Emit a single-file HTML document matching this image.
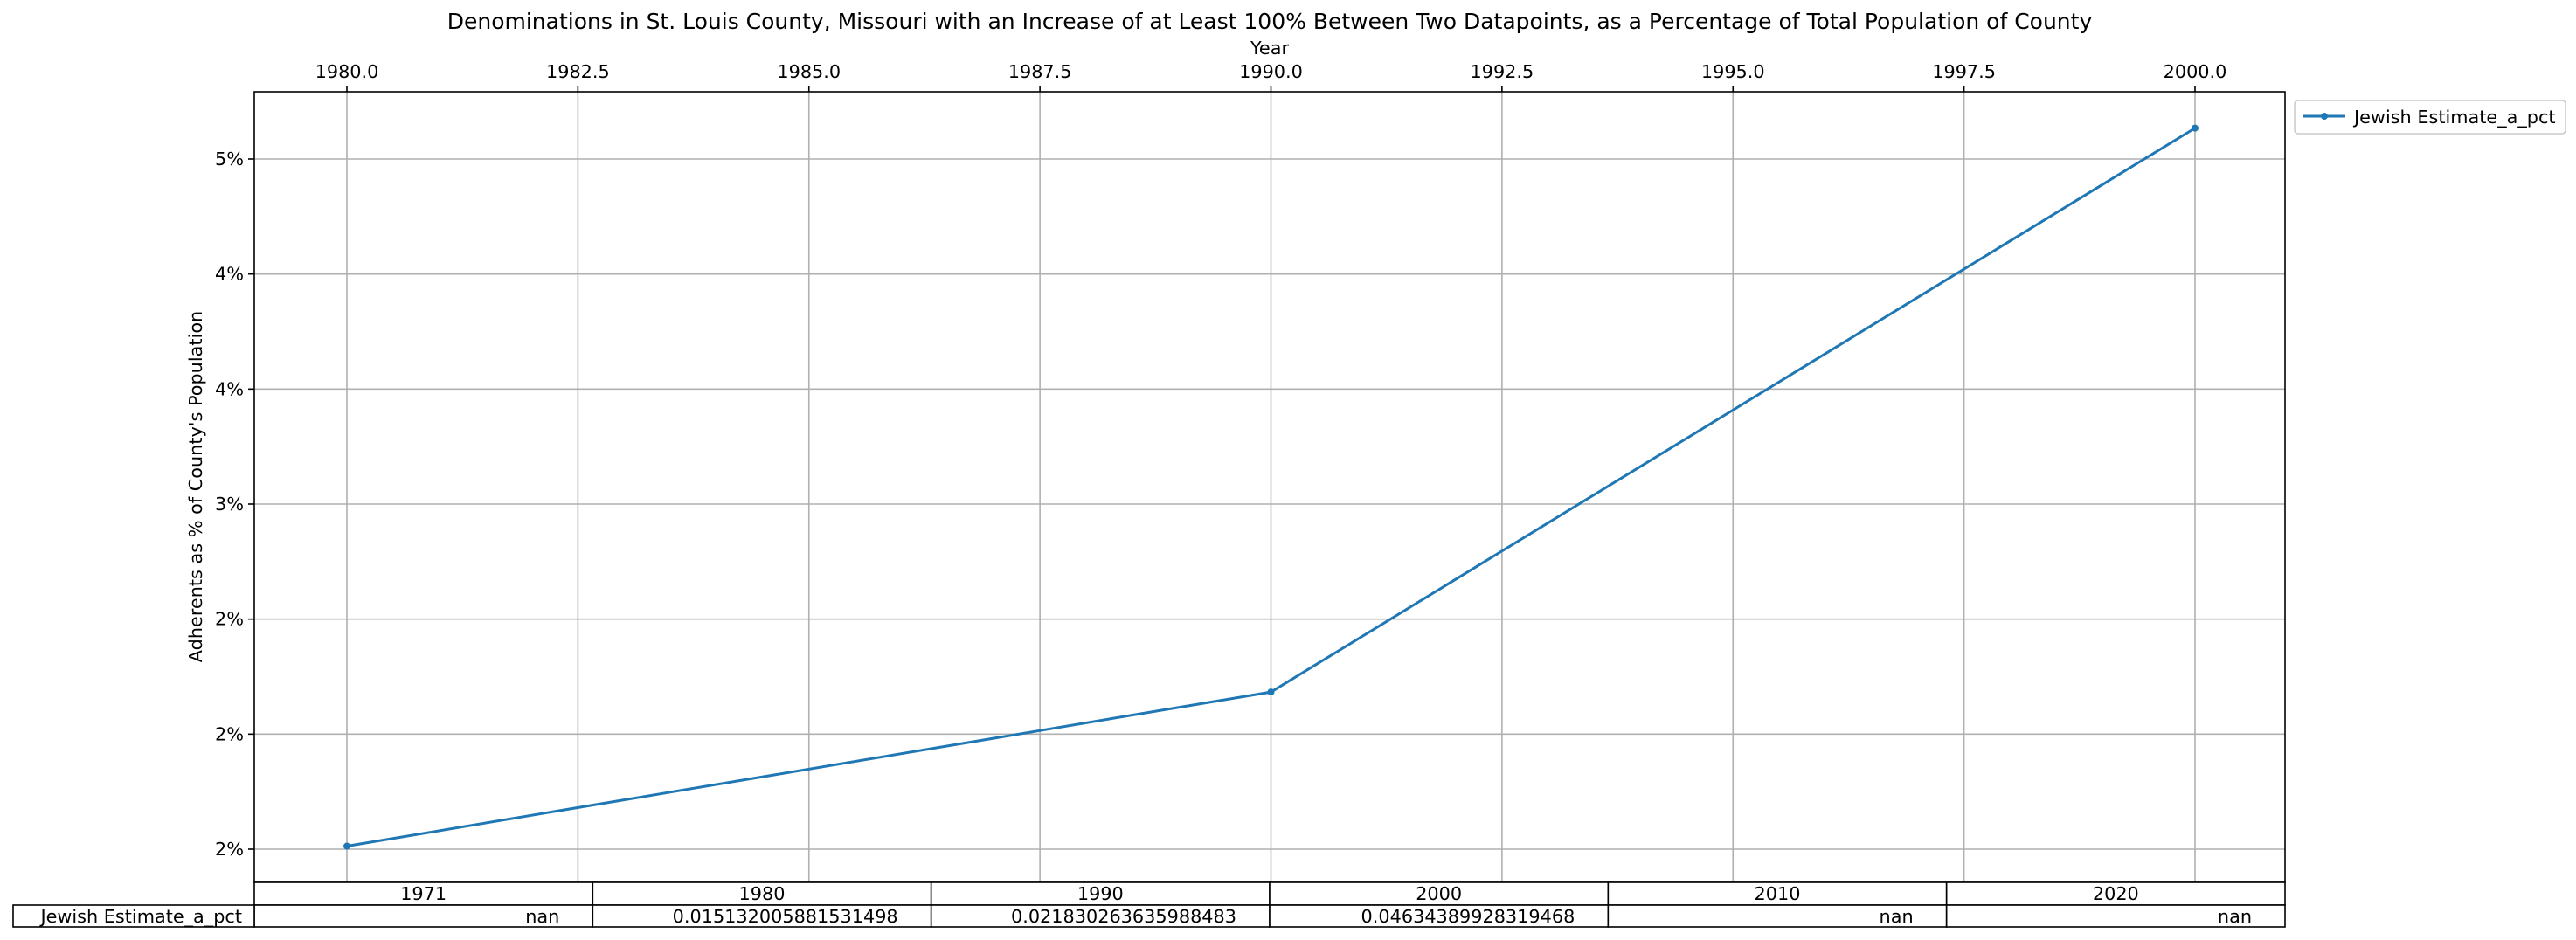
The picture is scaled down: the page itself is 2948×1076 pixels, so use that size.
<!DOCTYPE html>
<html><head><meta charset="utf-8"><style>
html,body{margin:0;padding:0;background:#fff;}
svg{display:block;font-family:"DejaVu Sans","Liberation Sans",sans-serif;}
</style></head><body>
<svg id="chart" width="2948" height="1076" viewBox="0 0 2948 1076">
<text x="1453" y="33" font-size="25" text-anchor="middle" fill="#000">Denominations in St. Louis County, Missouri with an Increase of at Least 100% Between Two Datapoints, as a Percentage of Total Population of County</text>
<text x="1453" y="62" font-size="20.8" text-anchor="middle">Year</text>
<text transform="translate(231,557) rotate(-90)" font-size="20.8" text-anchor="middle">Adherents as % of County's Population</text>
<g id="grid"></g>
<g id="ticks"></g>
<rect x="291" y="105" width="2324" height="905" fill="none" stroke="#000" stroke-width="1.6"/>
<g id="series"></g>
<g id="legend">
<rect x="2626" y="115" width="310" height="38" rx="4" fill="#fff" stroke="#ccc" stroke-width="1.6"/>
<line x1="2636" y1="133" x2="2684" y2="133" stroke="#1f77b4" stroke-width="3"/>
<circle cx="2660" cy="133" r="4" fill="#1f77b4"/>
<text x="2694" y="141" font-size="20.8">Jewish Estimate_a_pct</text>
</g>
<g id="table"></g>
</svg>
<script>
const xTicks=[1980,1982.5,1985,1987.5,1990,1992.5,1995,1997.5,2000];
const yTicks=[0.015,0.02,0.025,0.03,0.035,0.04,0.045];
const yTickLabels=["2%","2%","2%","3%","4%","4%","5%"];
const years=[1980,1990,2000];
const values=[0.015132005881531498,0.021830263635988483,0.04634389928319468];
const tableCols=["1971","1980","1990","2000","2010","2020"];
const tableVals=["nan","0.015132005881531498","0.021830263635988483","0.04634389928319468","nan","nan"];
const seriesName="Jewish Estimate_a_pct";

const NS="http://www.w3.org/2000/svg";
const L=291,R=2615,T=105,B=1010;
const xs=v=>397+(v-1980)*(2512-397)/20;
const ys=v=>972-(v-0.015)*(972-182)/0.03;
function mk(tag,attrs,parent,txt){const e=document.createElementNS(NS,tag);for(const k in attrs)e.setAttribute(k,attrs[k]);if(txt!==undefined)e.textContent=txt;parent.appendChild(e);return e;}
const grid=document.getElementById('grid'),ticks=document.getElementById('ticks');
xTicks.forEach(v=>{const x=xs(v);
 const g=mk('line',{x1:x,x2:x,y1:T,y2:B,stroke:'#b0b0b0','stroke-width':1.6},grid);
 
 
 const t=mk('line',{x1:x,x2:x,y1:T,y2:T-7,stroke:'#000','stroke-width':1.6},ticks);
 
 
 const l=mk('text',{x:x,y:89,'font-size':20.8,'text-anchor':'middle'},ticks,v.toFixed(1));
 
 
});
yTicks.forEach((v,i)=>{const y=ys(v);
 const g=mk('line',{x1:L,x2:R,y1:y,y2:y,stroke:'#b0b0b0','stroke-width':1.6},grid);
 
 
 const t=mk('line',{x1:L,x2:L-7,y1:y,y2:y,stroke:'#000','stroke-width':1.6},ticks);
 
 
 const l=mk('text',{x:L-12,y:y+7,'font-size':20.8,'text-anchor':'end'},ticks,yTickLabels[i]);
 
 
});
const ser=document.getElementById('series');
const pl=mk('polyline',{points:years.map((y,i)=>xs(y)+','+ys(values[i])).join(' '),fill:'none',stroke:'#1f77b4','stroke-width':3},ser);


years.forEach((y,i)=>{const c=mk('circle',{cx:xs(y),cy:ys(values[i]),r:4,fill:'#1f77b4'},ser);
 
 
});
const tb=document.getElementById('table');
const cw=(R-L)/tableCols.length;
tableCols.forEach((c,i)=>{const x=L+i*cw;
 const r1=mk('rect',{x:x,y:1010,width:cw,height:26,fill:'#fff',stroke:'#000','stroke-width':1.6},tb);
 
 
 const t1=mk('text',{x:x+cw/2,y:1030,'font-size':20.8,'text-anchor':'middle'},tb,c);
 
 
 const r2=mk('rect',{x:x,y:1036,width:cw,height:25,fill:'#fff',stroke:'#000','stroke-width':1.6},tb);
 
 
 const t2=mk('text',{x:x+cw-38,y:1056,'font-size':20.8,'text-anchor':'end'},tb,tableVals[i]);
 
 
});
const rl=mk('rect',{x:15,y:1036,width:L-15,height:25,fill:'#fff',stroke:'#000','stroke-width':1.6},tb);


const rt=mk('text',{x:L-14,y:1056,'font-size':20.8,'text-anchor':'end'},tb,seriesName);


</script>
</body></html>
